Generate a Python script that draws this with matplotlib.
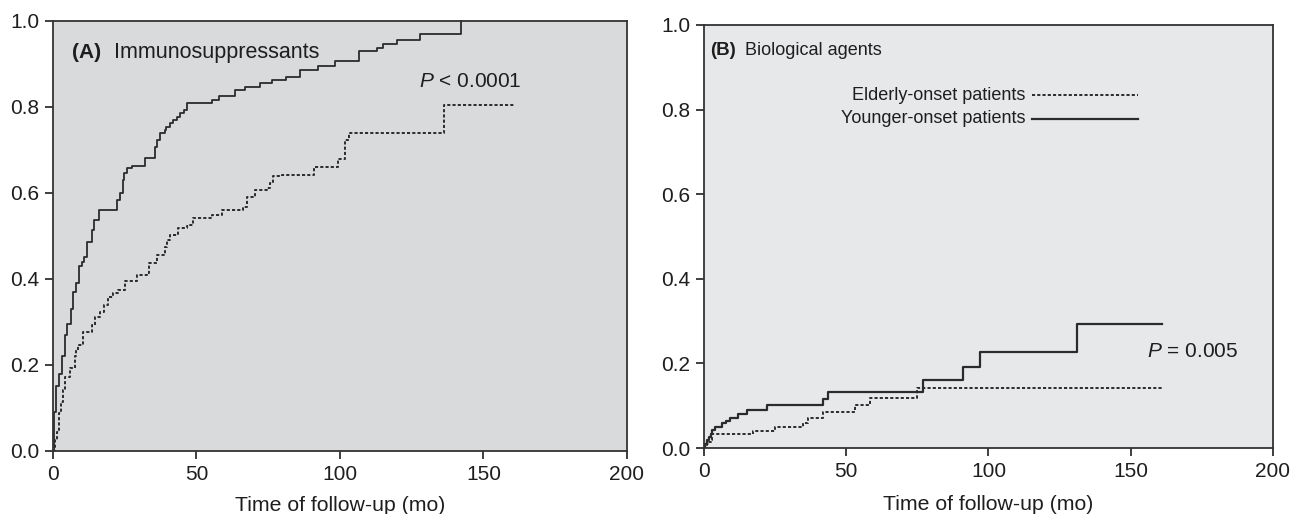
import numpy as np
import matplotlib
matplotlib.use("Agg")
import matplotlib.pyplot as plt

plt.rcParams['font.family'] = ['Liberation Sans', 'DejaVu Sans']
plt.rcParams['mathtext.fontset'] = 'custom'
plt.rcParams['mathtext.it'] = 'Liberation Sans:italic'
plt.rcParams['mathtext.rm'] = 'Liberation Sans'

# (A) Immunosuppressants - younger-onset (solid)
a_young_t = [0, 0.5, 1, 2, 3, 4.2, 5, 6.2, 7, 8, 9.2, 10, 10.8, 12, 13.5, 14.4, 16,
             22.2, 23.3, 24.3, 24.7, 25.7, 27.4, 32, 35.5, 36.3, 37.3, 39, 39.4, 40.8,
             41.8, 43.2, 44.3, 45.6, 46.6, 55.3, 57.9, 63.4, 66.9, 72.1, 76.2, 81.2,
             86, 92.3, 98.3, 106.7, 113, 115, 120, 127.9, 142.2]
a_young_s = [0, 0.09, 0.15, 0.18, 0.22, 0.27, 0.295, 0.33, 0.37, 0.39, 0.43, 0.44, 0.45,
             0.486, 0.514, 0.537, 0.56, 0.584, 0.60, 0.63, 0.646, 0.658, 0.663, 0.68,
             0.707, 0.723, 0.74, 0.747, 0.754, 0.762, 0.77, 0.777, 0.786, 0.793, 0.809,
             0.816, 0.824, 0.84, 0.847, 0.855, 0.863, 0.87, 0.886, 0.894, 0.907, 0.929,
             0.937, 0.946, 0.956, 0.969, 1.0]
a_young_end = 142.2

# (A) elderly-onset (dashed)
a_old_t = [0, 0.7, 1.3, 2.1, 2.7, 3.4, 4.2, 5.9, 7.7, 8.2, 8.8, 10.6, 13.5, 14.6, 16.4,
           17.8, 19.3, 21, 22.8, 25.1, 29.2, 32.9, 33.6, 36.1, 39, 39.6, 40.8, 43.7,
           46.6, 47.7, 48.9, 55.3, 58.8, 66.3, 67.5, 70.4, 74.5, 75.6, 76.8, 79.7,
           91, 99.4, 101.7, 103.2, 136.2]
a_old_s = [0, 0.026, 0.045, 0.088, 0.115, 0.142, 0.173, 0.193, 0.22, 0.235, 0.246, 0.277,
           0.293, 0.312, 0.324, 0.34, 0.359, 0.368, 0.374, 0.394, 0.409, 0.414, 0.436,
           0.456, 0.475, 0.49, 0.502, 0.518, 0.522, 0.526, 0.541, 0.549, 0.56, 0.568,
           0.591, 0.607, 0.611, 0.623, 0.638, 0.642, 0.661, 0.678, 0.723, 0.739, 0.803]
a_old_end = 160.7

# (B) Biological agents - younger-onset (solid)
b_young_t = [0, 0.4, 1.2, 1.8, 2.3, 2.7, 3.9, 6.2, 7.7, 9.1, 12.1, 15, 22, 41.9, 43.7,
             76.9, 91.1, 97, 131]
b_young_s = [0, 0.01, 0.02, 0.026, 0.034, 0.042, 0.05, 0.059, 0.063, 0.071, 0.081, 0.089,
             0.101, 0.116, 0.133, 0.161, 0.192, 0.228, 0.293]
b_young_end = 160.9

# (B) elderly-onset (dashed)
b_old_t = [0, 0.9, 1.8, 2.3, 2.8, 3.5, 17.1, 25, 34.9, 36.7, 41.9, 53.1, 58.3, 74.8]
b_old_s = [0, 0.01, 0.014, 0.02, 0.032, 0.034, 0.04, 0.05, 0.058, 0.071, 0.084, 0.101,
           0.119, 0.141]
b_old_end = 161.4

xticks = [0, 50, 100, 150, 200]
yticks = [0.0, 0.2, 0.4, 0.6, 0.8, 1.0]

line_col = '#2b2b2b'
txt_col = '#1e1e1e'
dash = (0, (1.6, 1.1))

fig = plt.figure(figsize=(12.98, 5.14), dpi=100)
axA = fig.add_axes([0.0408, 0.1226, 0.4422, 0.8371])
axB = fig.add_axes([0.5424, 0.1284, 0.4383, 0.8230])


def km(ax, t, s, end, **kw):
    t = list(t) + [end]
    s = list(s) + [s[-1]]
    ax.step(t, s, where='post', color=line_col, **kw)


for ax, bg, lp in ((axA, '#d9dadc', 8.5), (axB, '#e7e8ea', 10)):
    ax.set_facecolor(bg)
    ax.set_xlim(0, 200)
    ax.set_ylim(0, 1.0)
    ax.set_xticks(xticks)
    ax.set_yticks(yticks)
    ax.set_yticklabels([f'{v:.1f}' for v in yticks])
    ax.tick_params(direction='out', length=6, width=1.2, colors=txt_col,
                   labelsize=15, pad=4)
    for sp in ax.spines.values():
        sp.set_color('#333333')
        sp.set_linewidth(1.3)
    ax.set_xlabel('Time of follow-up (mo)', fontsize=15.3, color=txt_col, labelpad=lp)

km(axA, a_young_t, a_young_s, a_young_end, lw=1.3, clip_on=False)
km(axA, a_old_t, a_old_s, a_old_end, lw=1.4, linestyle=dash)
axA.text(6.7, 0.925, '(A)', fontsize=15, fontweight='bold', va='center', color=txt_col)
axA.text(21.3, 0.925, 'Immunosuppressants', fontsize=15.5, va='center', color=txt_col)
axA.text(163.3, 0.859, r'$P$ < 0.0001', fontsize=15, va='center', ha='right',
         color=txt_col)

km(axB, b_young_t, b_young_s, b_young_end, lw=1.6)
km(axB, b_old_t, b_old_s, b_old_end, lw=1.4, linestyle=dash)
axB.text(2.1, 0.94, '(B)', fontsize=13.5, fontweight='bold', va='center', color=txt_col)
axB.text(14.4, 0.94, 'Biological agents', fontsize=13, va='center', color=txt_col)
axB.text(113, 0.834, 'Elderly-onset patients', fontsize=13, va='center', ha='right',
         color=txt_col)
axB.text(113, 0.778, 'Younger-onset patients', fontsize=13, va='center', ha='right',
         color=txt_col)
axB.plot([115.2, 152.5], [0.834, 0.834], color=line_col, lw=1.4, linestyle=dash)
axB.plot([115.2, 152.5], [0.778, 0.778], color=line_col, lw=1.6)
axB.text(155.6, 0.228, r'$P$ = 0.005', fontsize=15, va='center', ha='left',
         color=txt_col)

fig.savefig('out.png', dpi=100)
